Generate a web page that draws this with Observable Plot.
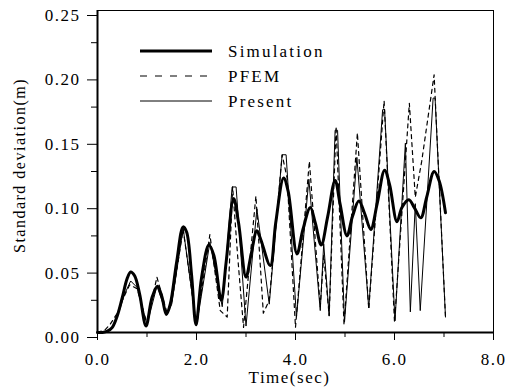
<!DOCTYPE html>
<html><head><meta charset="utf-8">
<script src="https://cdn.jsdelivr.net/npm/d3@7"></script>
<script src="https://cdn.jsdelivr.net/npm/@observablehq/plot@0.6"></script>
<style>
html,body{margin:0;padding:0;background:#fff;}
#chart svg text{letter-spacing:1.5px;}
#chart svg g.legend text{letter-spacing:2.2px;}
</style></head><body><div id="chart"></div>
<script>
// [time (sec), standard deviation (m)]
const simulation = [[0,0],[0.1,0],[0.2,0.001],[0.3,0.004],[0.4,0.013],[0.5,0.027],[0.6,0.042],[0.67,0.047],[0.75,0.044],[0.85,0.03],[0.98,0.005],[1.1,0.027],[1.21,0.036],[1.3,0.028],[1.39,0.014],[1.47,0.022],[1.6,0.055],[1.73,0.082],[1.8,0.078],[1.9,0.045],[1.99,0.006],[2.1,0.042],[2.25,0.068],[2.35,0.06],[2.5,0.025],[2.6,0.055],[2.75,0.104],[2.85,0.085],[3.0,0.043],[3.1,0.06],[3.22,0.079],[3.3,0.072],[3.49,0.052],[3.6,0.085],[3.76,0.12],[3.85,0.11],[4.03,0.061],[4.15,0.08],[4.3,0.097],[4.4,0.085],[4.52,0.068],[4.65,0.09],[4.8,0.118],[4.9,0.1],[5.04,0.075],[5.15,0.09],[5.28,0.102],[5.4,0.092],[5.52,0.08],[5.65,0.1],[5.8,0.126],[5.9,0.115],[6.05,0.086],[6.15,0.097],[6.29,0.103],[6.4,0.097],[6.53,0.089],[6.65,0.105],[6.8,0.125],[6.9,0.118],[7.03,0.093]];
const pfem = [[0,0],[0.15,0.002],[0.25,0.006],[0.4,0.015],[0.5,0.025],[0.65,0.037],[0.8,0.034],[1.0,0.007],[1.2,0.043],[1.4,0.016],[1.5,0.024],[1.73,0.08],[2.0,0.006],[2.27,0.076],[2.48,0.017],[2.62,0.012],[2.73,0.113],[2.83,0.06],[2.95,0.004],[3.2,0.106],[3.35,0.015],[3.47,0.025],[3.73,0.138],[3.83,0.12],[4.0,0.004],[4.28,0.133],[4.5,0.02],[4.57,0.06],[4.68,0.013],[4.82,0.16],[4.98,0.006],[5.25,0.155],[5.48,0.018],[5.79,0.18],[6.0,0.008],[6.3,0.178],[6.42,0.105],[6.55,0.133],[6.8,0.2],[7.03,0.012]];
const present = [[0,0],[0.2,0.001],[0.3,0.004],[0.45,0.018],[0.55,0.03],[0.67,0.04],[0.8,0.035],[1.0,0.006],[1.2,0.036],[1.4,0.014],[1.5,0.022],[1.73,0.081],[2.0,0.005],[2.27,0.07],[2.52,0.02],[2.72,0.113],[2.8,0.113],[3.0,0.005],[3.22,0.096],[3.47,0.022],[3.73,0.138],[3.81,0.138],[4.02,0.012],[4.27,0.119],[4.5,0.017],[4.57,0.069],[4.68,0.013],[4.8,0.157],[4.85,0.157],[4.99,0.008],[5.24,0.136],[5.48,0.019],[5.76,0.173],[5.8,0.173],[6.01,0.009],[6.22,0.147],[6.32,0.016],[6.42,0.1],[6.52,0.017],[6.78,0.182],[6.82,0.182],[7.03,0.012]];

const xMajorTicks = [0, 2, 4, 6, 8];
const xMinorTicks = [1, 3, 5, 7];
const yMajorTicks = [0, 0.05, 0.10, 0.15, 0.20, 0.25];
const yMinorTicks = [0.025, 0.075, 0.125, 0.175, 0.225];
const legendLabels = ["Simulation", "PFEM", "Present"];
const xLabel = "Time(sec)";
const yLabel = "Standard deviation(m)";

const legendStyles = [
  {w: 2.8, dash: null},
  {w: 1.2, dash: "7,8"},
  {w: 1, dash: null}
];

const legendMark = (index, scales, values, dims) => {
  const g = d3.create("svg:g").attr("class", "legend").attr("font-size", 17).attr("fill", "#000").attr("text-anchor", "start");
  const x0 = dims.marginLeft, y0 = dims.marginTop;
  legendLabels.forEach((label, i) => {
    const y = y0 + 41 + i * 25;
    const ln = g.append("line")
      .attr("x1", x0 + 43).attr("x2", x0 + 115)
      .attr("y1", y).attr("y2", y)
      .attr("stroke", "#000").attr("stroke-width", legendStyles[i].w);
    if (legendStyles[i].dash) ln.attr("stroke-dasharray", legendStyles[i].dash);
    g.append("text").attr("x", x0 + 131).attr("y", y).attr("dy", "0.35em")
      .attr("text-anchor", "start").text(label);
  });
  return g.node();
};

const toRows = arr => arr.map(([t, v]) => ({t, v}));

const chart = Plot.plot({
  width: 511, height: 390,
  marginLeft: 97, marginRight: 18, marginTop: 10, marginBottom: 58,
  style: {fontFamily: "'Liberation Serif', 'Times New Roman', serif", fontSize: "17px", color: "#000", background: "#fff"},
  x: {domain: [0, 8]},
  y: {domain: [0, 0.25]},
  marks: [
    Plot.frame({stroke: "#000", strokeWidth: 1}),
    Plot.axisX({ticks: xMajorTicks, tickFormat: d => d.toFixed(1), tickSize: 8, tickPadding: 12, label: null}),
    Plot.axisX({ticks: xMinorTicks, tickFormat: () => "", tickSize: 5, label: null}),
    Plot.axisY({ticks: yMajorTicks, tickFormat: d => d.toFixed(2), tickSize: 10, tickPadding: 7, dy: 5, label: null}),
    Plot.axisY({ticks: yMinorTicks, tickFormat: () => "", tickSize: 6, label: null}),
    Plot.ruleX([0], {stroke: "#000", strokeWidth: 2}),
    Plot.ruleY([0], {stroke: "#000", strokeWidth: 2}),
    Plot.line(toRows(pfem), {x: "t", y: "v", stroke: "#000", strokeWidth: 1.2, strokeDasharray: "4,4"}),
    Plot.line(toRows(present), {x: "t", y: "v", stroke: "#000", strokeWidth: 1}),
    Plot.line(toRows(simulation), {x: "t", y: "v", stroke: "#000", strokeWidth: 3, curve: "catmull-rom"}),
    Plot.text([xLabel], {text: d => d, frameAnchor: "bottom", textAnchor: "middle", dy: 50, dx: -6, fontSize: 17}),
    Plot.text([yLabel], {text: d => d, frameAnchor: "left", textAnchor: "middle", rotate: -90, dx: -78, dy: -6, fontSize: 16}),
    legendMark
  ]
});
document.getElementById("chart").appendChild(chart);
</script></body></html>
